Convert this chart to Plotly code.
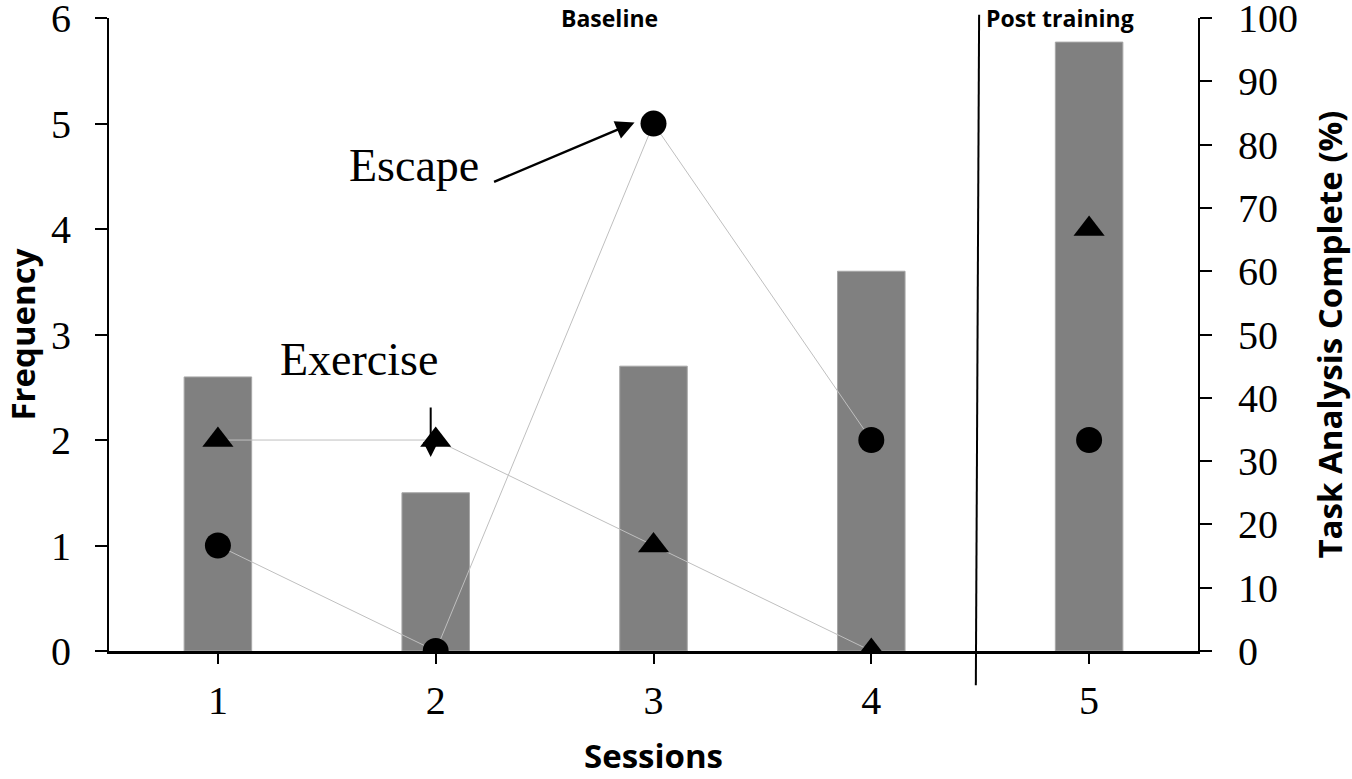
import plotly.graph_objects as go

sessions = [1, 2, 3, 4, 5]
task_pct = [43.3, 25, 45, 60, 96.2]
escape = [1, 0, 5, 2, 2]
exercise = [2, 2, 1, 0, 4]
baseline_n = 4

serif = "Liberation Serif"
sans = "Open Sans"

fig = go.Figure()
fig.add_trace(go.Bar(x=sessions, y=task_pct, width=0.31,
                     marker=dict(color="#808080", line=dict(color="#a6a6a6", width=1)),
                     yaxis="y", showlegend=False))
fig.add_trace(go.Scatter(x=sessions[:baseline_n], y=escape[:baseline_n], mode="lines",
                         line=dict(color="#bfbfbf", width=1), yaxis="y2", showlegend=False))
fig.add_trace(go.Scatter(x=sessions[:baseline_n], y=exercise[:baseline_n], mode="lines",
                         line=dict(color="#bfbfbf", width=1), yaxis="y2", showlegend=False))
fig.add_trace(go.Scatter(x=sessions, y=escape, mode="markers",
                         marker=dict(symbol="circle", size=26, color="black"),
                         yaxis="y2", showlegend=False))
fig.add_trace(go.Scatter(x=sessions, y=exercise, mode="markers",
                         marker=dict(symbol="triangle-up", size=27, color="black"),
                         yaxis="y2", showlegend=False))

fig.update_layout(
    width=1352, height=779,
    margin=dict(l=109, r=154, t=18, b=128),
    paper_bgcolor="white", plot_bgcolor="white",
    xaxis=dict(range=[0.5, 5.5], tickvals=sessions, ticktext=[str(s) for s in sessions],
               automargin=False,
               showline=True, linecolor="black", linewidth=3, ticks="outside",
               ticklen=10, tickwidth=2, tickcolor="black", showgrid=False, zeroline=False,
               tickfont=dict(family=serif, size=40, color="black"), ticklabelstandoff=2,
               title=dict(text="<b>Sessions</b>", font=dict(family=sans, size=33, color="black"),
                          standoff=23)),
    yaxis=dict(range=[0, 100.01], tickvals=list(range(0, 101, 10)), side="right", showline=True,
               linecolor="black", automargin=False, ticklabeloverflow="allow",
               linewidth=2, ticks="outside", ticklen=12, tickwidth=2, tickcolor="black",
               showgrid=False, zeroline=False, ticklabelstandoff=18,
               tickfont=dict(family=serif, size=40, color="black"),
               title=dict(text="<b>Task Analysis Complete (%)</b>",
                          font=dict(family=sans, size=33, color="black"), standoff=27)),
    yaxis2=dict(range=[0, 6.001], tickvals=list(range(0, 7)), side="left", overlaying="y",
                showline=True, automargin=False, ticklabeloverflow="allow",
                linecolor="black", linewidth=2, ticks="outside", ticklen=12, tickwidth=2,
                tickcolor="black", showgrid=False, zeroline=False, ticklabelstandoff=16,
                tickfont=dict(family=serif, size=40, color="black"),
                title=dict(text="<b>Frequency</b>", font=dict(family=sans, size=33, color="black"),
                           standoff=10)),
)

# phase change line
fig.add_shape(type="line", xref="x", yref="paper", x0=4.48, x1=4.495, y0=-0.054, y1=1.005,
              line=dict(color="black", width=2))

# phase labels
fig.add_annotation(x=2.80, y=1.0, xref="x", yref="paper", yanchor="middle", text="<b>Baseline</b>",
                   showarrow=False, font=dict(family=sans, size=23, color="black"))
fig.add_annotation(x=4.867, y=1.0, xref="x", yref="paper", yanchor="middle", text="<b>Post training</b>",
                   showarrow=False, font=dict(family=sans, size=23, color="black"))

# series labels
fig.add_annotation(x=1.90, y=4.6, xref="x", yref="y2", text="Escape", showarrow=False,
                   font=dict(family=serif, size=46, color="black"))
fig.add_annotation(x=1.647, y=2.76, xref="x", yref="y2", text="Exercise", showarrow=False,
                   font=dict(family=serif, size=46, color="black"))

# arrows
fig.add_annotation(x=2.913, y=5.01, xref="x", yref="y2", ax=-142, ay=60, text="",
                   showarrow=True, arrowhead=2, arrowsize=1.5, arrowwidth=2.5, arrowcolor="black")
fig.add_annotation(x=1.977, y=1.84, xref="x", yref="y2", ax=0, ay=-51, text="",
                   showarrow=True, arrowhead=2, arrowsize=1.5, arrowwidth=2, arrowcolor="black")

fig.write_html("out.html", config={"displayModeBar": False},
               post_script="document.body.style.margin='0';document.body.style.overflow='hidden';")
